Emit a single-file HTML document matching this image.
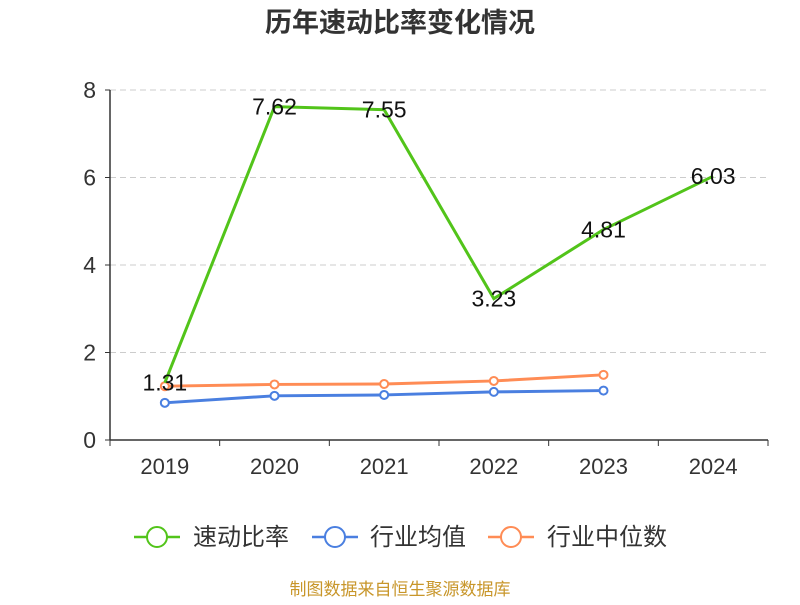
<!DOCTYPE html>
<html><head><meta charset="utf-8"><style>
body{margin:0;width:800px;height:600px;background:#fff;overflow:hidden}
svg text{font-family:"Liberation Sans","Noto Sans CJK SC",sans-serif}
</style></head><body>
<svg id="c" width="800" height="600">
<text x="400" y="32" text-anchor="middle" font-size="27" font-weight="bold" fill="#333">历年速动比率变化情况</text>
<g id="grid"></g><g id="axes"></g><g id="series"></g>
<g>
<g><line x1="134" y1="537" x2="180" y2="537" stroke="#52c41a" stroke-width="2.5"/><circle cx="157" cy="537" r="10" fill="#fff" stroke="#52c41a" stroke-width="2"/><text x="193" y="545" font-size="24" fill="#333">速动比率</text></g>
<g><line x1="312" y1="537" x2="358" y2="537" stroke="#4a7fe0" stroke-width="2.5"/><circle cx="335" cy="537" r="10" fill="#fff" stroke="#4a7fe0" stroke-width="2"/><text x="370" y="545" font-size="24" fill="#333">行业均值</text></g>
<g><line x1="488" y1="537" x2="534" y2="537" stroke="#ff8c55" stroke-width="2.5"/><circle cx="511" cy="537" r="10" fill="#fff" stroke="#ff8c55" stroke-width="2"/><text x="547" y="545" font-size="24" fill="#333">行业中位数</text></g>
</g>
<text x="400" y="595" text-anchor="middle" font-size="17" fill="#c8962a">制图数据来自恒生聚源数据库</text>
</svg>
<script>
const categories=["2019","2020","2021","2022","2023","2024"];
const quickRatio=[1.31,7.62,7.55,3.23,4.81,6.03];
const industryAvg=[0.85,1.01,1.03,1.10,1.13];
const industryMedian=[1.23,1.27,1.28,1.35,1.49];
const yTicks=[0,2,4,6,8];
const NS="http://www.w3.org/2000/svg";
const x0=110,x1=768,y0=440,y1=90,yMax=8;
const bw=(x1-x0)/categories.length;
const xs=i=>x0+bw*(i+0.5);
const ys=v=>y0-(v/yMax)*(y0-y1);
function mk(t,a,p){const e=document.createElementNS(NS,t);for(const k in a)e.setAttribute(k,a[k]);p.appendChild(e);return e;}
const grid=document.getElementById('grid'),axes=document.getElementById('axes'),ser=document.getElementById('series');
yTicks.forEach(v=>{
 if(v>0){const g=mk('line',{x1:x0,x2:x1,y1:ys(v),y2:ys(v),stroke:'#ccc','stroke-dasharray':'6,4'},grid);
 
 }
 const t=mk('text',{x:96,y:ys(v)+8,'text-anchor':'end','font-size':23,fill:'#333'},axes);t.textContent=v;
 
 
 mk('line',{x1:x0-5,x2:x0,y1:ys(v),y2:ys(v),stroke:'#333'},axes);
});
const ya=mk('line',{x1:x0,x2:x0,y1:y1,y2:y0,stroke:'#333','stroke-width':1.5},axes);


const xa=mk('line',{x1:x0,x2:x1,y1:y0,y2:y0,stroke:'#333','stroke-width':1.5},axes);


for(let i=0;i<=categories.length;i++)mk('line',{x1:x0+bw*i,x2:x0+bw*i,y1:y0,y2:y0+6,stroke:'#333'},axes);
categories.forEach((c,i)=>{const t=mk('text',{x:xs(i),y:474,'text-anchor':'middle','font-size':22,fill:'#333'},axes);t.textContent=c;
 
 });
function line(data,color,name,markers,labels){
 const p=mk('polyline',{points:data.map((v,i)=>xs(i)+','+ys(v)).join(' '),fill:'none',stroke:color,'stroke-width':3},ser);
 
 
 data.forEach((v,i)=>{
  if(markers){const c=mk('circle',{cx:xs(i),cy:ys(v),r:4,fill:'#fff',stroke:color,'stroke-width':2},ser);
  
  }
  if(labels){const t=mk('text',{x:xs(i),y:ys(v)+8,'text-anchor':'middle','font-size':23,fill:'#111'},ser);t.textContent=v.toFixed(2);
  
  }
 });
}
line(industryMedian,'#ff8c55','industry-median',true,false);
line(industryAvg,'#4a7fe0','industry-average',true,false);
line(quickRatio,'#52c41a','quick-ratio',false,true);
</script>
</body></html>
